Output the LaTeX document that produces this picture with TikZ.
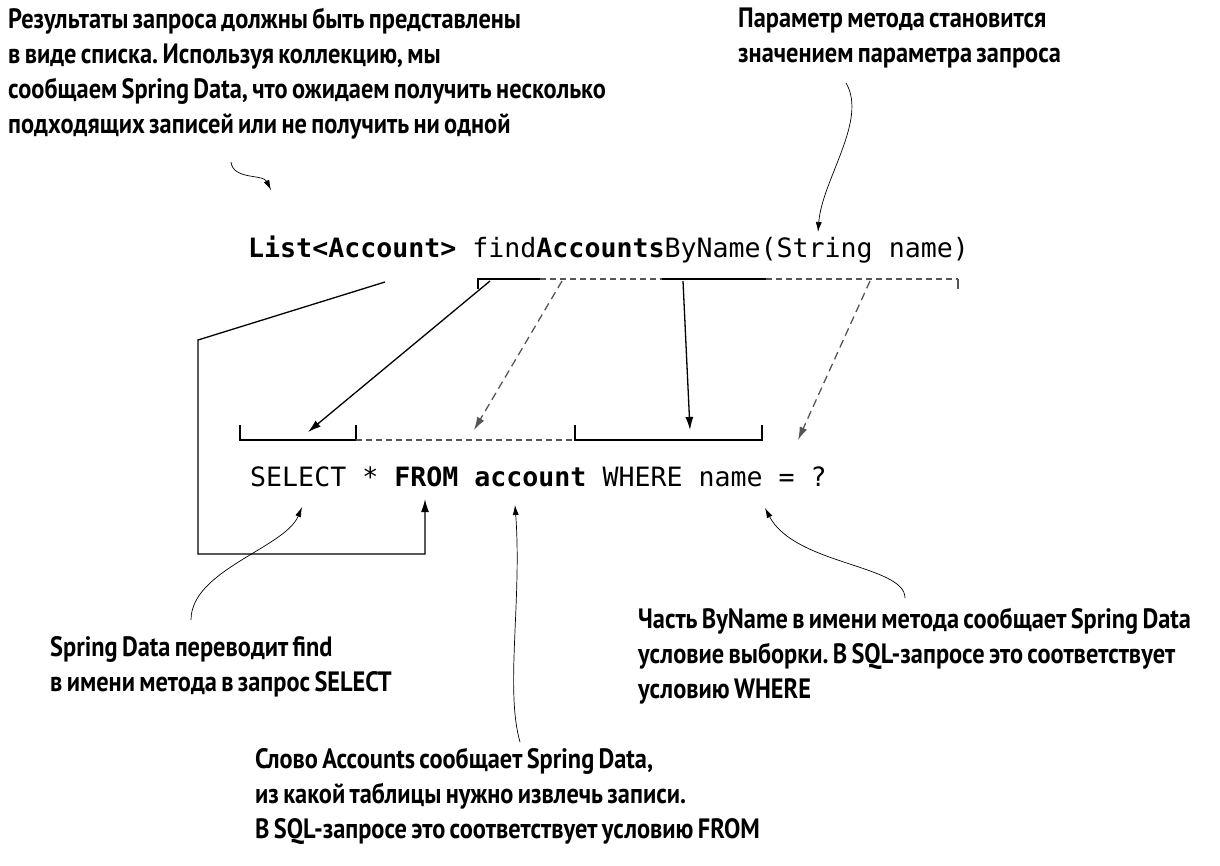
\documentclass[tikz,border=0pt]{standalone}
\usepackage{fontspec}
\setmainfont{PT Sans}
\newfontfamily\notefont{PT Sans}[FakeStretch=0.87, WordSpace=0.7]
\newfontfamily\codefont{DejaVu Sans Mono}
\usetikzlibrary{arrows.meta}
\definecolor{dgray}{HTML}{555555}
\frenchspacing
\tikzset{
  note/.style={font=\notefont\bfseries\fontsize{28}{35}\selectfont\frenchspacing, align=left, inner sep=0pt, anchor=north west},
  code/.style={font=\codefont\fontsize{26.6}{30}\selectfont, inner sep=0pt, anchor=base west},
  brk/.style={line width=1.4pt, black},
  dbrk/.style={line width=1.4pt, dgray, dash pattern=on 6pt off 4pt},
  conn/.style={line width=1.3pt, -{Latex[length=13pt,width=8pt]}},
  dconn/.style={line width=1.3pt, dgray, dash pattern=on 8pt off 5pt, -{Latex[length=13pt,width=8pt]}},
  thinarr/.style={line width=0.7pt, -{Latex[length=10pt,width=6pt]}}
}
\begin{document}
\begin{tikzpicture}[x=1pt,y=-1pt]
\useasboundingbox (0,0) rectangle (1220,866);

% annotations
\node[note] (nTL) at (8,8) {Результаты запроса должны быть представлены\\в виде списка. Используя коллекцию, мы\\сообщаем Spring Data, что ожидаем получить несколько\\подходящих записей или не получить ни одной};
\node[note] (nTR) at (738,8) {Параметр метода становится\\значением параметра запроса};
\node[note] (nBL) at (50,636) {Spring Data переводит find\\в имени метода в запрос SELECT};
\node[note] (nBR) at (638,608) {Часть ByName в имени метода сообщает Spring Data\\условие выборки. В SQL-запросе это соответствует\\условию WHERE};
\node[note] (nBC) at (255,748) {Слово Accounts сообщает Spring Data,\\из какой таблицы нужно извлечь записи.\\В SQL-запросе это соответствует условию FROM};

% code lines
\node[code] (sig) at (248,258) {\textbf{List<Account>} find\textbf{Accounts}ByName(String name)};
\node[code] (sql) at (250,486) {SELECT * \textbf{FROM account} WHERE name = ?};

% brackets under signature
\coordinate (f0) at (478,279);
\coordinate (f1) at (540,279);
\coordinate (b0) at (662,279);
\coordinate (b1) at (766,279);
\coordinate (e1) at (958,279);
\draw[brk] ([yshift=-10pt]f0) -- (f0) -- (f1);
\draw[dbrk] (f1) -- (b0);
\draw[brk] (b0) -- (b1);
\draw[dbrk] (b1) -- (e1);
\draw[line width=1.4pt, dgray] (e1) -- ([yshift=-10pt]e1);

% brackets above SQL
\coordinate (s0) at (240,440);
\coordinate (s1) at (356,440);
\coordinate (w0) at (575,440);
\coordinate (w1) at (762,440);
\draw[brk] ([yshift=15pt]s0) -- (s0) -- (s1) -- ([yshift=15pt]s1);
\draw[dbrk] (s1) -- (w0);
\draw[brk] ([yshift=15pt]w0) -- (w0) -- (w1) -- ([yshift=15pt]w1);

% connectors
\coordinate (lst) at (385,282);
\coordinate (c1) at (198,340);
\coordinate (c2) at (198,554);
\coordinate (c3) at (425,554);
\coordinate (fromT) at (425,499);
\draw[conn] (lst) -- (c1) -- (c2) -- (c3) -- (fromT);

\coordinate (fS) at (490,281);
\coordinate (selT) at (308,432);
\draw[conn] (fS) -- (selT);

\coordinate (aS) at (562,281);
\coordinate (accT) at (474,430);
\draw[dconn] (aS) -- (accT);

\coordinate (bS) at (683,281);
\coordinate (whT) at (690,430);
\draw[conn] (bS) -- (whT);

\coordinate (pS) at (870,281);
\coordinate (qT) at (798,440);
\draw[dconn] (pS) -- (qT);

% annotation curves
\coordinate (tlS) at (231,162);
\coordinate (tlT) at (271,190);
\draw[thinarr] (tlS) .. controls (233,180) and (263,174) .. (tlT);

\coordinate (trS) at (846,83);
\coordinate (trT) at (818,232);
\draw[thinarr] (trS) .. controls (868,120) and (822,180) .. (trT);

\coordinate (blS) at (191,620);
\coordinate (blT) at (302,507);
\draw[thinarr] (blS) .. controls (191,570) and (285,548) .. (blT);

\coordinate (bcS) at (520,742);
\coordinate (bcT) at (515,505);
\draw[thinarr] (bcS) .. controls (505,690) and (522,600) .. (bcT);

\coordinate (brS) at (905,598);
\coordinate (brT) at (765,508);
\draw[thinarr] (brS) .. controls (905,565) and (795,565) .. (brT);
\end{tikzpicture}
\end{document}
